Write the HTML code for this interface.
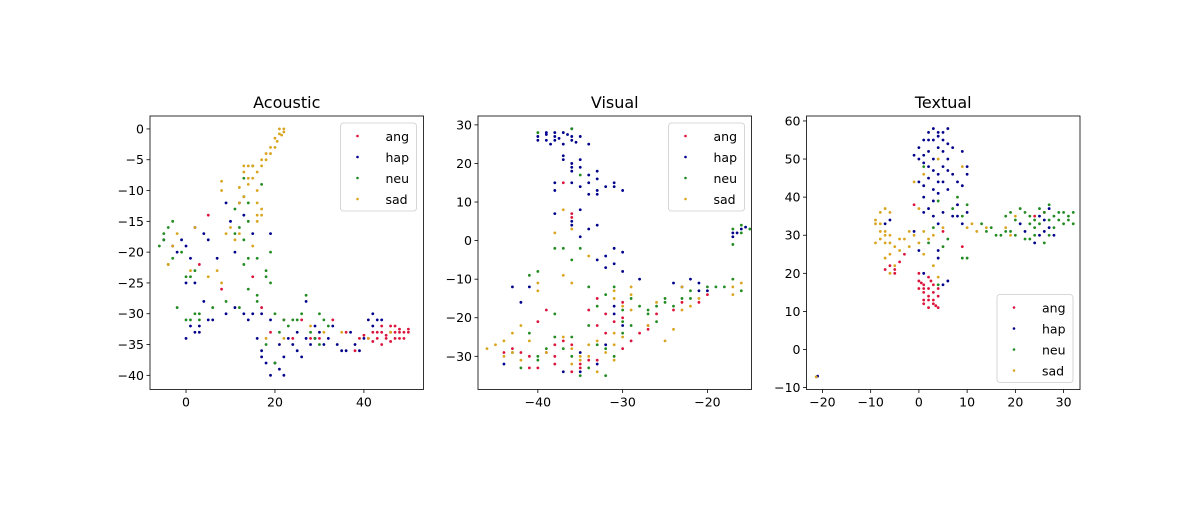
<!DOCTYPE html>
<html><head><meta charset="utf-8"><style>
body{margin:0;background:#fff}
svg text{font-family:"DejaVu Sans","Liberation Sans",sans-serif;fill:#000}
</style></head><body>
<svg id="fig" width="1200" height="500" xmlns="http://www.w3.org/2000/svg"></svg>
<script>
// ---- data (x,y pairs flattened) ----
const labels = ["ang","hap","neu","sad"];
const colors = ["#dc143c","#00008b","#228b22","#daa520"];
const titles = ["Acoustic","Visual","Textual"];

const acAng=[5,-14,3,-22,8,-26,19,-33,24,-34,28,-34,30,-34,39,-34,42,-33,43,-34,44,-33,45,-34,46,-32,47,-33,48,-33,49,-33,50,-33,47,-34,41,-34,38,-36,44,-35,22,-31,15,-24,42,-34.5,43,-33,45,-33.5,46,-34.5,48,-32.5,49,-34,50,-32.5,47,-32,44,-32,46,-33,48,-34,40,-33.5,36,-33,33,-31,17,-29,26,-31];
const acHap=[2,-16,-5,-18,-3,-19,0,-19,-2,-20,4,-17,5,-18,9,-12,12,-12,13,-14,10,-15,15,-17,19,-17,11,-20,7,-21,0,-25,2,-25,4,-28,3,-32,5,-31,2,-33,0,-34,9,-30,13,-30,15,-30,17,-30,19,-31,21,-35,22,-37,20,-38,19,-40,22,-40,25,-36,26,-37,28,-35,30,-33,32,-34,33,-32,34,-35,36,-36,38,-35,40,-34,41,-31,42,-32,44,-31,37,-33,27,-28,29,-32,16,-34,17,-36,23,-34,25,-33,17,-37,18,-38,21,-39,24,-35,27,-34,29,-34,31,-35,35,-36,39,-36,42,-30,43,-31,14,-31,11,-29,1,-32,3,-33,6,-31,-1,-18,1,-21];
const acNeu=[-5,-18,-6,-19,-4,-16,-3,-21,-1,-20,-4,-22,0,-24,1,-24,2,-23,-2,-29,0,-31,3,-30,1,-31,6,-29,9,-28,12,-29,14,-26,13,-22,14,-21,18,-23,19,-25,20,-30,22,-31,24,-31,26,-30,27,-27,30,-30,30,-35,28,-33,32,-32,20,-38,18,-35,13,-11,14,-15,12,-16,17,-9,13,-8,15,-6,11,-17,16,-27,19,-20,13,-18,-5,-17,-3,-15,2,-30,3,-31,16,-28,18,-24,21,-33,23,-32,25,-31,29,-34,31,-31,16,-21,11,-13,14,-12];
const acSad=[21,0,22,-0.5,21.5,-1,20.5,-2,20,-3,19,-4,18,-5,17,-6,16,-7,14,-6,13,-7,15,-8,14,-9,16,-10,12,-9.5,8,-8.5,8,-10,13,-11,16,-12,17,-14,16,-15,10,-16,12,-17,11,-18,15,-19,-3,-19,-4,-22,1,-23,5,-24,7,-23,18,-34,22,-34,8,-25,41,-34,46,-33,35,-33,28,-32,31,-33,-2,-17,2,-16,22,0,21,-0.8,20,-1.5,19,-3,18,-4,17,-5,15,-6,14,-8,13,-6,12,-12,17,-13,16,-14,9,-17];

const viAng=[-37,15,-36,7,-36,6,-39,-18,-40,-21,-43,-28,-41,-33,-40,-33,-38,-30,-38,-32,-39,-29,-44,-29,-36,-34,-35,-33,-33,-31,-30,-28,-29,-26,-28,-24,-27,-22,-30,-20,-32,-19,-34,-18,-33,-15,-30,-16,-23,-16,-21,-16,-36,-27,-37,-26,-33,-22,-27,-23,-26,-19,-24,-18,-31,-21,-41,-30,-42,-29,-38,-27,-35,-32,-34,-31,-32,-24,-20,-14];
const viHap=[-40,27,-39,28,-38,27,-37,28,-36,27,-35,27,-38,26,-37,25,-36,26,-39,26,-36,29,-34,25,-38,28,-40,26,-37,21,-36,20,-35,21,-35,19,-33,18,-34,17,-36,18,-33,16,-38,15,-38,13,-36,15,-34,15,-33,13,-31,14,-30,13,-31,15,-34,12,-33,12,-38,7,-36,5,-35,8,-36,4,-35,1,-31,-2,-30,-3,-31,-6,-33,-5,-32,-7,-30,-8,-28,-10,-41,-12,-43,-12,-42,-16,-44,-32,-35,-34,-32,-27,-37,-34,-21,-11,-20,-13,-22,-10,-21,-13,-23,-12,-24,-11,-17,2,-16,3,-17,1,-33,-32,-35,-29,-31,-17,-30,-22,-31,-19,-39,27.5,-37.5,26.5,-36.5,27.5,-35.5,25.5,-38.5,25,-37,22,-36,19,-35,14,-32,14,-33,4,-34,3,-32,-4,-16.5,2,-15.5,3.5];
const viNeu=[-17,3,-16,2,-15,3,-16,4,-17,-1,-17,-10,-18,-12,-16,-13,-19,-12,-22,-13,-24,-17,-25,-16,-26,-17,-27,-19,-23,-15,-25,-15,-26,-21,-29,-22,-30,-18,-28,-17,-32,-14,-34,-12,-33,-17,-34,-22,-36,-25,-38,-25,-39,-28,-40,-31,-41,-24,-43,-29,-42,-33,-40,-30,-37,-28,-36,-30,-34,-33,-32,-35,-31,-30,-30,-24,-32,-28,-38,-2,-37,-2,-40,-8,-41,-9,-36,29,-40,28,-35,17,-35,-2,-36,-5,-38,-19,-31,-12,-29,-15,-27,-18,-22,-15,-20,-12,-35,-35,-33,-27,-30,-21];
const viSad=[-37,8,-38,2,-36,3,-34,-4,-37,-9,-36,-11,-40,-11,-40,-13,-42,-22,-43,-24,-44,-26,-46,-28,-45,-27,-43,-29,-41,-26,-39,-29,-37,-25,-36,-28,-35,-30,-34,-30,-33,-26,-31,-31,-30,-25,-31,-24,-30,-17,-31,-13,-29,-12,-29,-14,-27,-22,-25,-26,-24,-23,-23,-18,-21,-15,-26,-16,-23,-12,-17,-12,-16,-11,-17,-14,-32,-29,-35,-31,-34,-27,-44,-30,-42,-31,-36,-32,-33,-34,-31,-27,-29,-18,-31,-15,-22,-17];

const txAng=[-7,21,-6,22,-5,21,-4,23,-3,25,0,20,0,18,1,17,2,16,1,15,2,14,3,13,3,12,4,11,2,11,1,13,0,16,2,19,3,17,4,14,-1,38,5,31,8,38,24,35,26,36,9,27,1,16,3,15,2,13,3.5,11.5,0.5,17.5,2.5,18,4,16,1,12,-5,20];
const txHap=[-1,51,0,53,1,55,2,57,3,58,4,56,5,57,6,58,3,55,4,53,5,52,6,54,7,53,2,52,0,50,1,49,6,50,9,52,3,47,4,46,5,48,6,47,2,45,1,43,3,42,4,41,5,44,1,40,8,44,10,46,10,48,9,43,2,37,3,35,4,33,5,36,7,35,9,33,10,36,8,38,-1,31,-6,34,-7,33,0,26,4,24,6,18,5,17,1,20,4,26,21,33,22,31,25,30,26,31,25,35,27,37,24,28,28,30,8,35,-21,-7,2,55,4,57,5,55,1,51,3,50,2,48,4,44,3,39,6,42,7,46,0,44,1,36,26,34,27,32];
const txNeu=[18,35,19,36,20,34,22,36,23,35,24,34,25,37,26,36,27,38,28,35,29,34,30,36,31,35,32,36,32,33,30,33,28,32,27,30,26,28,24,30,23,29,20,30,19,31,17,30,14,31,15,32,13,33,9,35,10,38,8,40,7,37,6,29,3,32,2,28,5,27,9,24,10,24,4,17,1,48,4,39,21,37,23,33,29,36,31,34,27,34,25,33,22,29,18,31,16,30,24,32];
const txSad=[-9,34,-8,36,-7,37,-6,36,-9,33,-8,31,-7,31,-8,29,-9,28,-7,28,-6,30,-5,27,-4,26,-6,25,-7,24,-5,22,-6,20,-3,29,-2,27,-1,30,0,28,2,29,3,30,5,32,1,25,3,22,4,19,11,33,12,31,14,32,10,32,20,35,18,32,19,30,-1,44,1,46,4,50,9,48,-21.3,-7.2,0,37,-8,33,-6,28,-4,29,-2,31,-7,30,1,31];

const acXTicks=[0,20,40], acYTicks=[0,-5,-10,-15,-20,-25,-30,-35,-40];
const viXTicks=[-40,-30,-20], viYTicks=[30,20,10,0,-10,-20,-30];
const txXTicks=[-20,-10,0,10,20,30], txYTicks=[60,50,40,30,20,10,0,-10];

const panels=[
 {name:"acoustic",left:150,xlim:[-8.1,53.4],ylim:[-42.3,2.1],series:[acAng,acHap,acNeu,acSad],xt:acXTicks,yt:acYTicks,leg:"upper"},
 {name:"visual",left:478,xlim:[-47.06,-14.8],ylim:[-38.6,32.3],series:[viAng,viHap,viNeu,viSad],xt:viXTicks,yt:viYTicks,leg:"upper"},
 {name:"textual",left:806.5,xlim:[-23.3,33.4],ylim:[-10.5,61.3],series:[txAng,txHap,txNeu,txSad],xt:txXTicks,yt:txYTicks,leg:"lower"}
];
const W=273.5, TOP=116, H=273.5;
const NS="http://www.w3.org/2000/svg";
const svg=document.getElementById('fig');
function mk(tag,attrs,parent){const e=document.createElementNS(NS,tag);for(const k in attrs)e.setAttribute(k,attrs[k]);(parent||svg).appendChild(e);return e;}

panels.forEach((p,pi)=>{
  const g=mk('g',{});
  
  
  const sx=v=>p.left+(v-p.xlim[0])/(p.xlim[1]-p.xlim[0])*W;
  const sy=v=>TOP+H-(v-p.ylim[0])/(p.ylim[1]-p.ylim[0])*H;
  p.series.forEach((arr,si)=>{
    const sg=mk('g',{fill:colors[si]},g);
    
    
    for(let i=0;i<arr.length;i+=2){
      const c=mk('circle',{cx:sx(arr[i]),cy:sy(arr[i+1]),r:1.4},sg);
      
      
    }
  });
  const fr=mk('rect',{x:p.left,y:TOP,width:W,height:H,fill:'none',stroke:'#000','stroke-width':0.8},g);
  
  
  p.xt.forEach(t=>{
    const x=sx(t);
    mk('line',{x1:x,x2:x,y1:TOP+H,y2:TOP+H+3.5,stroke:'#000','stroke-width':0.8},g);
    const tx=mk('text',{x:x,y:TOP+H+17,'text-anchor':'middle','font-size':'12.5px'},g);
    tx.textContent=String(t).replace('-','\u2212');
    
    
  });
  p.yt.forEach(t=>{
    const y=sy(t);
    mk('line',{x1:p.left-3.5,x2:p.left,y1:y,y2:y,stroke:'#000','stroke-width':0.8},g);
    const tx=mk('text',{x:p.left-6,y:y+4.5,'text-anchor':'end','font-size':'12.5px'},g);
    tx.textContent=String(t).replace('-','\u2212');
    
    
  });
  const tt=mk('text',{x:p.left+W/2,y:TOP-8,'text-anchor':'middle','font-size':'16px'},g);
  tt.textContent=titles[pi];
  
  
  // legend
  const lx=p.left+W-83, ly=p.leg==="upper"?TOP+7:TOP+H-95;
  const lg=mk('g',{},g);
  
  
  mk('rect',{x:lx,y:ly,width:76,height:88,rx:3,fill:'#fff','fill-opacity':0.8,stroke:'#ccc','stroke-width':0.8},lg);
  labels.forEach((l,i)=>{
    const ey=ly+13+i*21;
    const e=mk('g',{},lg);
    
    
    mk('circle',{cx:lx+17,cy:ey,r:1.3,fill:colors[i]},e);
    const t=mk('text',{x:lx+45,y:ey+5,'font-size':'12.5px'},e);
    t.textContent=l;
  });
});
</script>
</body></html>
